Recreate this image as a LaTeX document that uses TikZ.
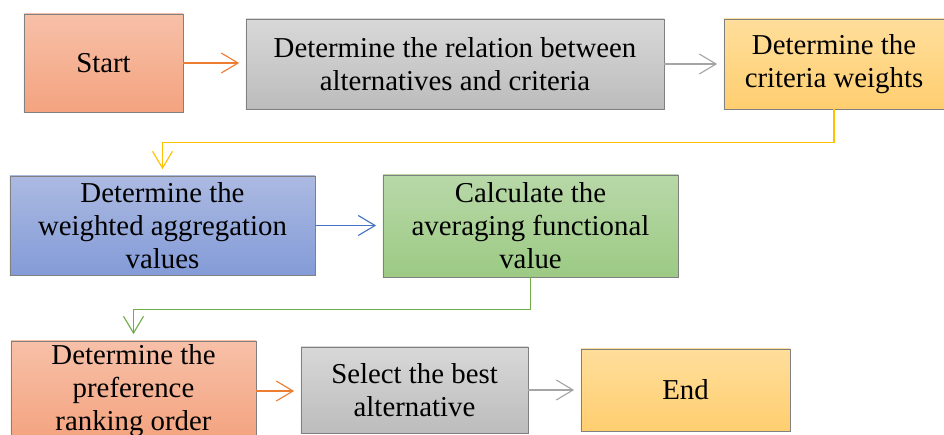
\documentclass[tikz,border=0pt]{standalone}
\usepackage{fontspec}
\setmainfont{Liberation Serif}
\usetikzlibrary{arrows.meta}

\definecolor{boxline}{RGB}{128,128,128}
\definecolor{salmonT}{RGB}{247,192,168}
\definecolor{salmonB}{RGB}{244,163,127}
\definecolor{grayT}{RGB}{216,216,216}
\definecolor{grayB}{RGB}{188,188,188}
\definecolor{goldT}{RGB}{255,222,155}
\definecolor{goldB}{RGB}{255,206,112}
\definecolor{blueT}{RGB}{172,186,226}
\definecolor{blueB}{RGB}{131,155,215}
\definecolor{greenT}{RGB}{184,216,168}
\definecolor{greenB}{RGB}{156,202,132}
\definecolor{orangeA}{RGB}{237,125,49}
\definecolor{grayA}{RGB}{165,165,165}
\definecolor{goldA}{RGB}{255,192,0}
\definecolor{blueA}{RGB}{68,114,196}
\definecolor{greenA}{RGB}{112,173,71}

\tikzset{
  box/.style={draw=boxline, line width=0.6pt, align=center, inner sep=0pt,
    font=\fontsize{20.5}{23.4}\selectfont},
  link/.style={line width=0.8pt, shorten >=0.16cm,
    -{Straight Barb[length=0.42cm,width=0.5cm,line width=0.8pt]}},
}

\begin{document}
\begin{tikzpicture}[x=0.025cm, y=-0.025cm]
    \useasboundingbox (0,0) rectangle (944,434);
    \clip (0,0) rectangle (944,434);

    % 1. First row
    \node[box, top color=salmonT, bottom color=salmonB, minimum width=3.975cm, minimum height=2.45cm]
        (start) at (103.5,63) {Start};
    \node[box, top color=grayT, bottom color=grayB, minimum width=10.45cm, minimum height=2.25cm]
        (relation) at (455,64) {Determine the relation between\\alternatives and criteria};
    \node[box, top color=goldT, bottom color=goldB, minimum width=5.5cm, minimum height=2.25cm]
        (weights) at (834,64) {Determine the\\criteria weights};

    % 2. Second row
    \node[box, top color=blueT, bottom color=blueB, minimum width=7.625cm, minimum height=2.475cm]
        (aggregation) at (162.5,225.5) {Determine the\\weighted aggregation\\values};
    \node[box, top color=greenT, bottom color=greenB, minimum width=7.375cm, minimum height=2.55cm]
        (functional) at (530.5,226) {Calculate the\\averaging functional\\value};

    % 3. Third row
    \node[box, top color=salmonT, bottom color=salmonB, minimum width=6.125cm, minimum height=2.5cm]
        (ranking) at (133.5,391) {Determine the\\preference\\ranking order};
    \node[box, top color=grayT, bottom color=grayB, minimum width=5.675cm, minimum height=2.15cm]
        (best) at (414.5,390) {Select the best\\alternative};
    \node[box, top color=goldT, bottom color=goldB, minimum width=5.225cm, minimum height=2.05cm]
        (finish) at (685.5,390) {End};

    % 4. Arrows
    \draw[link, orangeA] (start.east) -- (start.east -| relation.west);
    \draw[link, grayA] (relation.east) -- (relation.east -| weights.west);
    \draw[link, goldA] (weights.south) -- ++(0,33) -| (aggregation.north);
    \draw[link, blueA] (aggregation.east) -- (aggregation.east -| functional.west);
    \draw[link, greenA] (functional.south) -- ++(0,32) -| (ranking.north);
    \draw[link, orangeA] (ranking.east) -- (ranking.east -| best.west);
    \draw[link, grayA] (best.east) -- (best.east -| finish.west);
\end{tikzpicture}
\end{document}
